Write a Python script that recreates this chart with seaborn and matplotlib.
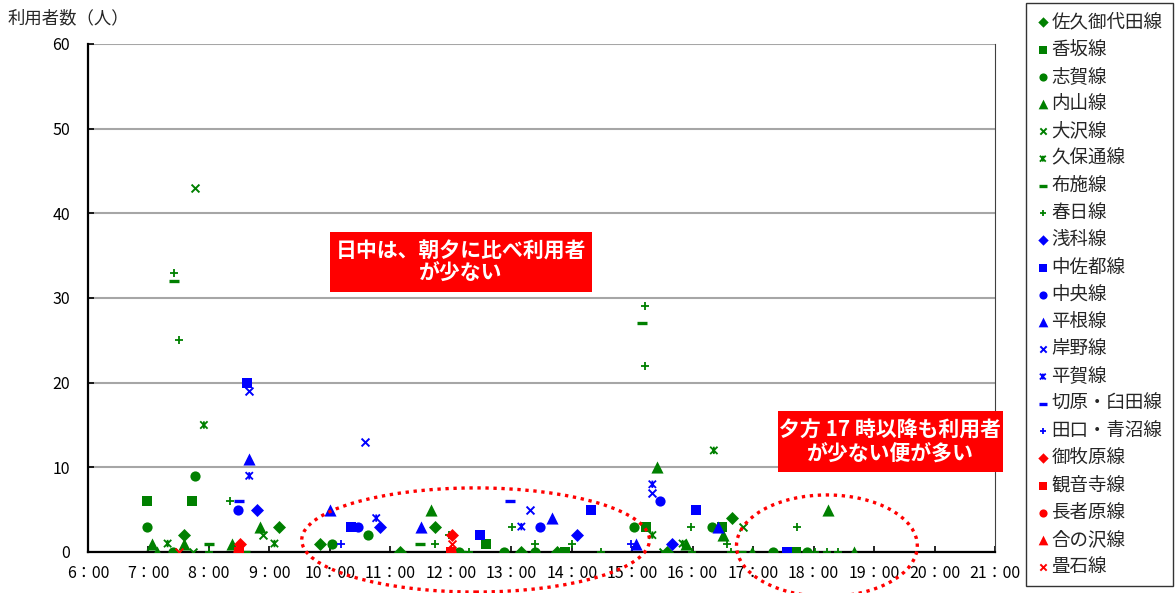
import matplotlib
matplotlib.use("Agg")
import matplotlib.pyplot as plt
from matplotlib.patches import Ellipse, Rectangle
from matplotlib.path import Path
import pandas as pd
import seaborn as sns

# ---- boardings per bus run: (departure time, riders) ----
saku_miyota = [("7:35", 2), ("9:10", 3), ("9:50", 1), ("11:10", 0), ("11:44", 3),
               ("13:10", 0), ("13:45", 0), ("15:35", 0), ("16:39", 4)]
kousaka = [("6:59", 6), ("7:43", 6), ("12:35", 1), ("13:53", 0), ("15:14", 3),
           ("16:29", 3), ("17:43", 0)]
shiga = [("6:59", 3), ("7:24", 0), ("7:46", 9), ("10:02", 1), ("10:38", 2),
         ("12:08", 0), ("12:53", 0), ("13:24", 0), ("15:02", 3), ("16:19", 3),
         ("17:20", 0), ("17:53", 0)]
uchiyama = [("7:04", 1), ("7:08", 0), ("7:35", 1), ("8:23", 1), ("8:51", 3),
            ("11:40", 5), ("15:25", 10), ("15:53", 1), ("16:30", 2), ("16:59", 0),
            ("18:14", 5), ("18:40", 0)]
oosawa = [("7:46", 43), ("7:44", 0), ("8:54", 2), ("15:31", 0), ("16:50", 3)]
kubodoori = [("7:19", 1), ("7:55", 15), ("9:05", 1), ("15:20", 2), ("15:50", 1),
             ("16:21", 12)]
fuse = [("7:25", 32), ("8:00", 1), ("8:36", 0), ("11:29", 1), ("12:10", 0),
        ("15:10", 27), ("16:48", 0)]
kasuga = [("7:25", 33), ("7:30", 25), ("8:00", 0), ("8:21", 6), ("11:44", 1),
          ("11:58", 2), ("12:18", 0), ("13:01", 3), ("13:24", 1), ("14:00", 1),
          ("14:29", 0), ("15:13", 29), ("15:13", 22), ("15:58", 3), ("15:59", 0),
          ("16:34", 1), ("16:38", 0), ("17:44", 3), ("18:01", 0), ("18:13", 0),
          ("18:24", 0)]
asashina = [("8:48", 5), ("10:50", 3), ("14:05", 2), ("15:39", 1)]
nakasato = [("8:38", 20), ("10:21", 3), ("12:29", 2), ("14:19", 5), ("16:03", 5),
            ("17:34", 0)]
chuou = [("8:29", 5), ("10:28", 3), ("13:29", 3), ("15:28", 6)]
hirane = [("8:40", 11), ("10:00", 5), ("11:30", 3), ("13:40", 4), ("15:04", 1),
          ("16:25", 3)]
kishino = [("8:40", 19), ("10:35", 13), ("13:19", 5), ("15:20", 7)]
hiraga = [("8:40", 9), ("10:46", 4), ("13:10", 3), ("15:20", 8)]
kirihara_usuda = [("8:30", 6), ("12:59", 6)]
taguchi_aonuma = [("10:11", 1), ("14:59", 1)]
mimakihara = [("8:31", 1), ("12:01", 2)]
kannonji = [("8:30", 0), ("12:00", 0)]
chojahara = [("8:29", 0), ("12:00", 0)]
ainosawa = [("8:30", 0), ("12:01", 0)]
tatamiishi = [("7:30", 0), ("12:01", 1)]

ROUTES = [
    ("佐久御代田線", saku_miyota), ("香坂線", kousaka), ("志賀線", shiga),
    ("内山線", uchiyama), ("大沢線", oosawa), ("久保通線", kubodoori),
    ("布施線", fuse), ("春日線", kasuga), ("浅科線", asashina),
    ("中佐都線", nakasato), ("中央線", chuou), ("平根線", hirane),
    ("岸野線", kishino), ("平賀線", hiraga), ("切原・臼田線", kirihara_usuda),
    ("田口・青沼線", taguchi_aonuma), ("御牧原線", mimakihara),
    ("観音寺線", kannonji), ("長者原線", chojahara), ("合の沢線", ainosawa),
    ("畳石線", tatamiishi),
]

HOURS = list(range(6, 22))
Y_TICKS = [0, 10, 20, 30, 40, 50, 60]
Y_LABEL = "利用者数（人）"
NOTE_DAY = "日中は、朝夕に比べ利用者\nが少ない"
NOTE_EVE = "夕方 17 時以降も利用者\nが少ない便が多い"

# ---- marker styles ----
GREEN, BLUE, RED = "#008000", "#0000FF", "#FF0000"
STAR = Path([(-1, -1), (1, 1), (-1, 1), (1, -1), (0, -1), (0, 1)],
            [Path.MOVETO, Path.LINETO, Path.MOVETO, Path.LINETO,
             Path.MOVETO, Path.LINETO])
SHAPES = {  # marker, scatter size, line width, fill mode
    "D": ("D", 44, 0, True),
    "s": ("s", 46, 0, True),
    "o": ("o", 54, 0, True),
    "^": ("^", 76, 0, True),
    "x": ("x", 32, 1.4, False),
    "*": (STAR, 28, 1.3, "path"),
    "_": ("_", 60, 2.4, False),
    "+": ("+", 38, 1.3, False),
}
ORDER = ["D", "s", "o", "^", "x", "*", "_", "+"]
STYLE = {}
for i, (name, _) in enumerate(ROUTES):
    if i < 8:
        STYLE[name] = (ORDER[i], GREEN)
    elif i < 16:
        STYLE[name] = (ORDER[i - 8], BLUE)
    else:
        STYLE[name] = (["D", "s", "o", "^", "x"][i - 16], RED)


def to_hours(t):
    h, m = t.split(":")
    return int(h) + int(m) / 60


rows = []
for name, pts in ROUTES:
    for t, v in pts:
        rows.append({"route": name, "hour": to_hours(t), "riders": v})
df = pd.DataFrame(rows)

# ---- figure ----
sns.set_style("white")
plt.rcParams["font.family"] = ["Noto Sans CJK JP", "DejaVu Sans"]
plt.rcParams["axes.unicode_minus"] = False

W, H = 1175, 593
fig = plt.figure(figsize=(W / 100, H / 100), dpi=100)


def fx(x):
    return x / W


def fy(y):
    return 1 - y / H


ax = fig.add_axes([fx(88), fy(552), fx(995) - fx(88), fy(44) - fy(552)])

for name, _ in ROUTES:
    key, color = STYLE[name]
    marker, s, lw, filled = SHAPES[key]
    sub = df[df["route"] == name]
    kw = dict(marker=marker, s=s, color=color, label=name, zorder=3)
    if filled is True:
        kw.update(edgecolor=color, linewidth=0)
    elif filled == "path":
        kw.update(edgecolor=color, facecolor="none", linewidth=lw)
    else:
        kw.update(linewidth=lw)
    sns.scatterplot(data=sub, x="hour", y="riders", ax=ax, legend=False, **kw)

ax.set_xlim(6, 21)
ax.set_ylim(0, 60)
ax.set_xticks(HOURS)
ax.set_xticklabels([f"{h}：00" for h in HOURS])
ax.set_yticks(Y_TICKS)
ax.set_xlabel("")
ax.set_ylabel("")
ax.yaxis.grid(True, color="#A6A6A6", linewidth=1.5)
ax.xaxis.grid(False)
ax.set_axisbelow(True)
for side in ("left", "bottom"):
    ax.spines[side].set_color("black")
    ax.spines[side].set_linewidth(1.6)
ax.spines["top"].set_visible(False)
ax.spines["right"].set_color("#404040")
ax.spines["right"].set_linewidth(0.8)
ax.tick_params(axis="x", direction="in", length=4, width=1.2, pad=9,
               labelsize=11.5, colors="black", bottom=True)
ax.tick_params(axis="y", direction="in", length=4, width=1.2, pad=13,
               labelsize=11.5, colors="black", left=True)

fig.text(fx(8), fy(18), Y_LABEL, fontsize=12.5, va="center", ha="left")

# dotted ellipses marking the quiet periods
for (cx, cy, w, h) in [(12.41, 1.42, 5.75, 12.3), (18.22, 0.74, 2.99, 12.0)]:
    e = Ellipse((cx, cy), w, h, fill=False, edgecolor=RED, linewidth=2.4,
                linestyle=(0, (1, 1.4)), clip_on=False, zorder=5)
    ax.add_patch(e)

# callout boxes
for (x0, y0, x1, y1, txt) in [(330, 232, 592, 292, NOTE_DAY),
                              (778, 411, 1003, 472, NOTE_EVE)]:
    fig.add_artist(Rectangle((fx(x0), fy(y1)), fx(x1) - fx(x0), fy(y0) - fy(y1),
                             transform=fig.transFigure, facecolor=RED,
                             edgecolor="none", zorder=10))
    fig.text(fx((x0 + x1) / 2), fy((y0 + y1) / 2), txt, color="white",
             fontsize=15, fontweight="bold", ha="center", va="center",
             multialignment="center", linespacing=1.1, zorder=11)

handles, labels = ax.get_legend_handles_labels()
leg = ax.legend(handles, labels, loc="upper left",
                bbox_to_anchor=(fx(1026), fy(3)), bbox_transform=fig.transFigure,
                frameon=True, fancybox=False, edgecolor="black", fontsize=13.3,
                labelspacing=0.50, handletextpad=0.12, handlelength=0.7,
                borderpad=0.56, borderaxespad=0, markerscale=0.8)
leg.get_frame().set_linewidth(1.0)

fig.savefig("out.png", dpi=100)
